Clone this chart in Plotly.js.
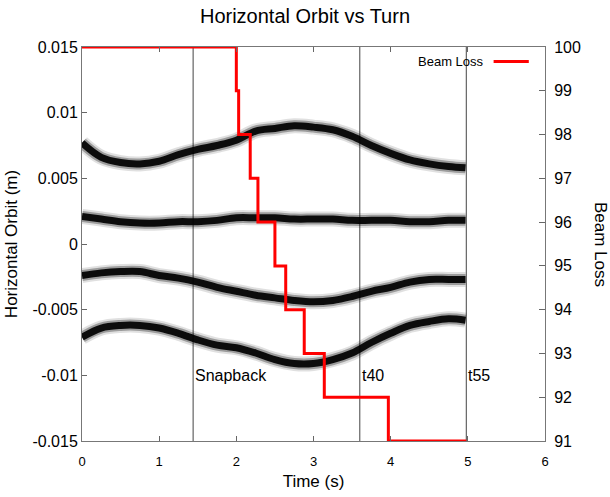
<!DOCTYPE html>
<html>
<head>
<meta charset="utf-8">
<script src="https://cdn.plot.ly/plotly-3.0.1.min.js"></script>
<style>html,body{margin:0;padding:0;background:#fff}#chart{width:610px;height:497px}</style>
</head>
<body>
<div id="chart"></div>
<script>
// Time samples (s)
const orbitTime = [0,0.25,0.5,0.75,1,1.25,1.5,1.75,2,2.25,2.5,2.75,3,3.25,3.5,3.75,4,4.25,4.5,4.75,4.97];
// Four BPM orbit bands (m), centre values
const orbitA = [0.0077,0.0066,0.0062,0.0061,0.0063,0.0068,0.0072,0.0075,0.0079,0.0086,0.0088,0.0090,0.0089,0.0087,0.0082,0.0075,0.0069,0.0064,0.0061,0.0059,0.0058];
const orbitB = [0.0021,0.0019,0.0017,0.0016,0.0016,0.0017,0.0017,0.0018,0.0020,0.0020,0.0020,0.0019,0.0019,0.0019,0.0018,0.0018,0.0018,0.0017,0.0017,0.0018,0.0018];
const orbitC = [-0.0024,-0.0022,-0.0021,-0.0021,-0.0024,-0.0026,-0.0029,-0.0033,-0.0036,-0.0039,-0.0041,-0.0043,-0.0044,-0.0043,-0.0040,-0.0036,-0.0033,-0.0029,-0.0027,-0.0027,-0.0027];
const orbitD = [-0.0071,-0.0064,-0.0062,-0.0062,-0.0064,-0.0068,-0.0073,-0.0077,-0.0079,-0.0083,-0.0088,-0.0091,-0.0091,-0.0088,-0.0083,-0.0075,-0.0068,-0.0062,-0.0059,-0.0057,-0.0058];
// Beam loss steps
const lossTime = [0,2.0,2.03,2.18,2.28,2.50,2.64,2.88,3.14,3.97,4.98];
const lossValue = [100,99,98,97,96,95,94,93,92,91,91];
// Event markers
const eventTime = [1.44,3.60,4.98];
const eventLabel = ['Snapback','t40','t55'];
// Tick labels
const yTickVals = [-0.015,-0.01,-0.005,0,0.005,0.01,0.015];
const yTickText = ['-0.015','-0.01','-0.005','0','0.005','0.01','0.015'];
const y2TickVals = [91,92,93,94,95,96,97,98,99,100];
const xTickVals = [0,1,2,3,4,5,6];

const FONT = 'Liberation Sans, Arial, sans-serif';
const traces = [];
[orbitA, orbitB, orbitC, orbitD].forEach(function(band){
  traces.push({x: orbitTime, y: band, type:'scatter', mode:'lines', line:{color:'rgba(0,0,0,0.12)', width:15, shape:'spline'}, showlegend:false, hoverinfo:'skip'});
  traces.push({x: orbitTime, y: band, type:'scatter', mode:'lines', line:{color:'rgba(0,0,0,0.3)', width:11, shape:'spline'}, showlegend:false, hoverinfo:'skip'});
  traces.push({x: orbitTime, y: band, type:'scatter', mode:'lines', line:{color:'rgba(0,0,0,0.92)', width:7, shape:'spline'}, showlegend:false, hoverinfo:'skip'});
});
traces.push({x: lossTime, y: lossValue, type:'scatter', mode:'lines', name:'Beam Loss', yaxis:'y2', line:{color:'#ff0000', width:3, shape:'hv'}, showlegend:false});

const shapes = eventTime.map(function(t){
  return {type:'line', xref:'x', yref:'paper', x0:t, x1:t, y0:0, y1:1, line:{color:'#444', width:1}, layer:'below'};
});
shapes.push({type:'line', xref:'paper', yref:'paper', x0:0.889, x1:0.965, y0:0.963, y1:0.963, line:{color:'#ff0000', width:3}});

const annotations = eventTime.map(function(t, i){
  return {x:t, y:-0.01, xref:'x', yref:'y', text:eventLabel[i], showarrow:false, xanchor:'left', yanchor:'middle', font:{family:FONT, size:16, color:'#000'}};
});
annotations.push({xref:'paper', yref:'paper', x:0.873, y:0.963, text:'Beam Loss', showarrow:false, xanchor:'right', yanchor:'middle', font:{family:FONT, size:13, color:'#000'}});
annotations.push({xref:'paper', yref:'paper', x:1.121, y:0.5, text:'Beam Loss', textangle:90, showarrow:false, xanchor:'center', yanchor:'middle', font:{family:FONT, size:17, color:'#000'}});

const layout = {
  width:610, height:497,
  margin:{l:82, r:65, t:47, b:56},
  paper_bgcolor:'#fff', plot_bgcolor:'#fff',
  font:{family:FONT, color:'#000'},
  title:{text:'Horizontal Orbit vs Turn', x:0.5, xanchor:'center', y:0.967, yanchor:'middle', font:{family:FONT, size:20, color:'#000'}},
  xaxis:{range:[0,6], tickvals:xTickVals, ticks:'inside', ticklen:5, tickcolor:'#666', showline:true, linecolor:'#777', linewidth:1, mirror:'ticks', showgrid:false, zeroline:false,
    ticklabelstandoff:8, tickfont:{family:FONT, size:13}, title:{text:'Time (s)', font:{family:FONT, size:17}, standoff:7}},
  yaxis:{range:[-0.015,0.015], tickvals:yTickVals, ticktext:yTickText, ticks:'inside', ticklen:5, tickcolor:'#666', showline:true, linecolor:'#777', linewidth:1, mirror:true, showgrid:false, zeroline:false,
    tickfont:{family:FONT, size:16}, title:{text:'Horizontal Orbit (m)', font:{family:FONT, size:17}, standoff:10}},
  yaxis2:{range:[91,100], tickvals:y2TickVals, overlaying:'y', side:'right', ticks:'inside', ticklen:6, tickcolor:'#666', showline:true, linecolor:'#777', showgrid:false, zeroline:false,
    ticklabelstandoff:5, tickfont:{family:FONT, size:16}},
  shapes:shapes,
  annotations:annotations
};
Plotly.newPlot('chart', traces, layout, {displayModeBar:false, staticPlot:true});
</script>
</body>
</html>
